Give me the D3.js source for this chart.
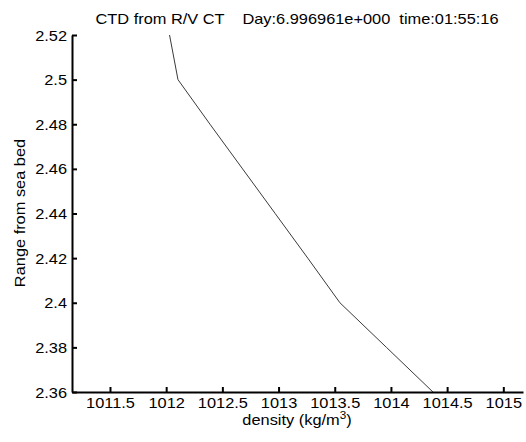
<!DOCTYPE html>
<html>
<head>
<meta charset="utf-8">
<script src="https://cdn.jsdelivr.net/npm/d3@7"></script>
<style>
  html, body { margin: 0; padding: 0; background: #fff; }
  svg { display: block; }
  text { font-family: "Liberation Sans", Arial, Helvetica, sans-serif; fill: #000; }
</style>
</head>
<body>
<script>
// CTD profile: density against height above the sea bed
const rangeFromBed = [2.52, 2.50, 2.48, 2.46, 2.44, 2.42, 2.40, 2.38, 2.36];
const density = [1012.03, 1012.105, 1012.39, 1012.68, 1012.97, 1013.26, 1013.546, 1013.96, 1014.374];

const xTicks = [1011.5, 1012, 1012.5, 1013, 1013.5, 1014, 1014.5, 1015];
const xTickLabels = ["1011.5", "1012", "1012.5", "1013", "1013.5", "1014", "1014.5", "1015"];
const yTicks = [2.36, 2.38, 2.40, 2.42, 2.44, 2.46, 2.48, 2.50, 2.52];
const yTickLabels = ["2.36", "2.38", "2.4", "2.42", "2.44", "2.46", "2.48", "2.5", "2.52"];

const titleText = "CTD from R/V CT    Day:6.996961e+000  time:01:55:16";
const yLabelText = "Range from sea bed";

const W = 526, H = 442;
const plotLeft = 72, plotRight = 523, plotTop = 35, plotBottom = 392;
const fs = 14, sx = 1.17; // font size and horizontal glyph stretch

const svg = d3.select("body").append("svg")
  .attr("width", W).attr("height", H);

const x = d3.scaleLinear()
  .domain([1011.162, 1011.162 + (plotRight - plotLeft) / 112.38])
  .range([plotLeft, plotRight]);
const y = d3.scaleLinear().domain([2.36, 2.52]).range([plotBottom, plotTop]);

// data line
const line = d3.line().x((d, i) => x(density[i])).y(d => y(d));
svg.append("path")
  .datum(rangeFromBed)
  .attr("d", line)
  .attr("fill", "none")
  .attr("stroke", "#3a3a3a")
  .attr("stroke-width", 1);

// x axis
const xAxis = d3.axisBottom(x)
  .tickValues(xTicks)
  .tickFormat((d, i) => xTickLabels[i])
  .tickSizeInner(-5)
  .tickSizeOuter(0)
  .tickPadding(0);
const gx = svg.append("g").attr("transform", `translate(0,${plotBottom})`).call(xAxis);
gx.select(".domain").attr("stroke", "#000").attr("stroke-width", 2);
gx.selectAll(".tick line").attr("stroke", "#000").attr("stroke-width", 2);
gx.selectAll(".tick text").each(function () {
  d3.select(this).attr("y", null).attr("dy", null)
    .attr("transform", `translate(0,16) scale(${sx},1)`)
    .attr("font-size", fs)
    .attr("font-family", "Liberation Sans, Arial, sans-serif")
    .attr("fill", "#000")
    .attr("text-anchor", "middle");
});

// y axis
const yAxis = d3.axisLeft(y)
  .tickValues(yTicks)
  .tickFormat((d, i) => yTickLabels[i])
  .tickSizeInner(-5)
  .tickSizeOuter(0)
  .tickPadding(0);
const gy = svg.append("g").attr("transform", `translate(${plotLeft},0)`).call(yAxis);
gy.select(".domain").attr("stroke", "#000").attr("stroke-width", 2);
gy.selectAll(".tick line").attr("stroke", "#000").attr("stroke-width", 2);
gy.selectAll(".tick text").each(function () {
  d3.select(this).attr("x", null).attr("dy", null)
    .attr("transform", `translate(-5,5) scale(${sx},1)`)
    .attr("font-size", fs)
    .attr("font-family", "Liberation Sans, Arial, sans-serif")
    .attr("fill", "#000")
    .attr("text-anchor", "end");
});

// title
svg.append("text")
  .attr("transform", `translate(297,24) scale(${sx},1)`)
  .attr("text-anchor", "middle")
  .attr("font-size", fs)
  .attr("xml:space", "preserve")
  .style("white-space", "pre")
  .text(titleText);

// x label with superscript
const xl = svg.append("text")
  .attr("transform", `translate(297,425) scale(${sx},1)`)
  .attr("text-anchor", "middle")
  .attr("font-size", fs);
xl.append("tspan").text("density (kg/m");
xl.append("tspan").attr("font-size", 10).attr("dy", -6).text("3");
xl.append("tspan").attr("dy", 6).text(")");

// y label
svg.append("text")
  .attr("transform", `translate(25,213) rotate(-90) scale(${sx},1)`)
  .attr("text-anchor", "middle")
  .attr("font-size", fs)
  .text(yLabelText);
</script>
</body>
</html>
